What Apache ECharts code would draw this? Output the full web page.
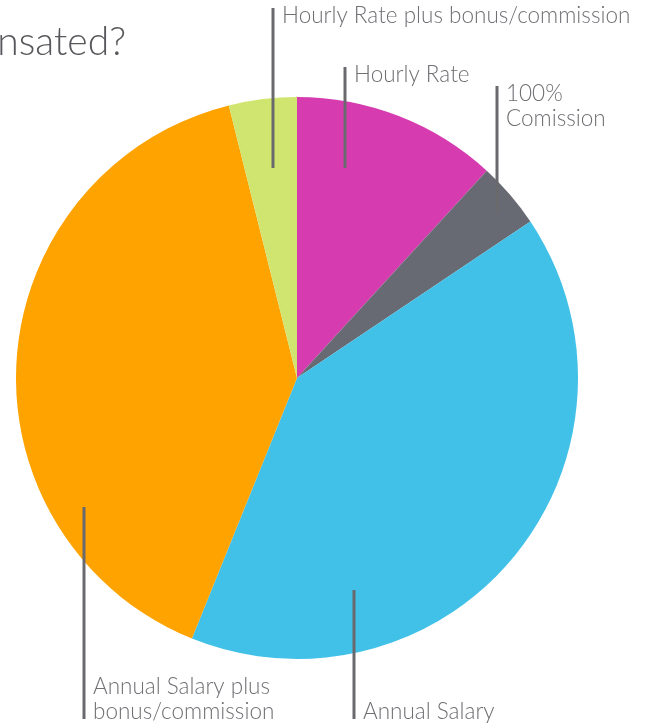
<!DOCTYPE html>
<html>
<head>
<meta charset="utf-8">
<script src="https://cdn.jsdelivr.net/npm/echarts@6/dist/echarts.min.js"></script>
<style>
  html, body { margin: 0; padding: 0; background: #ffffff; }
  #chart { width: 646px; height: 725px; }
</style>
</head>
<body>
<div id="chart"></div>
<script>
// Survey: how respondents are paid (share of answers, %)
const categories = [
  'Hourly Rate',
  '100%\nComission',
  'Annual Salary',
  'Annual Salary plus\nbonus/commission',
  'Hourly Rate plus bonus/commission'
];
const shares = [11.8, 3.8, 40.5, 40.0, 3.9];
const sliceColors = ['#d63caf', '#676a72', '#41c0e8', '#fea300', '#d0e570'];
const titleText = 'How are you compensated?';

// Callout placement per slice: leader x, leader top, leader bottom, text side
const callouts = [
  { x: 345, top: 67,  bottom: 168, textAt: 'top' },
  { x: 497, top: 86,  bottom: 213, textAt: 'top' },
  { x: 354, top: 590, bottom: 719, textAt: 'bottom' },
  { x: 84,  top: 507, bottom: 719, textAt: 'bottom' },
  { x: 273, top: 8,   bottom: 168, textAt: 'top' }
];

const textColor = '#6f6f74';
const lineColor = '#6a6a6e';
const fontFamily = 'Lato, "Open Sans", sans-serif';

const pieCenter = [297, 378];
const pieRadius = [0, 281];

const pieData = categories.map(function (name, i) {
  return { name: name, value: shares[i], itemStyle: { color: sliceColors[i] } };
});

const chart = echarts.init(document.getElementById('chart'), null, { renderer: 'canvas' });

chart.setOption({
  backgroundColor: '#ffffff',
  animation: false,
  graphic: [{
    type: 'text',
    x: 126,
    y: 62,
    style: {
      text: titleText,
      fill: '#58585c',
      font: '300 39px ' + fontFamily,
      align: 'right',
      verticalAlign: 'bottom'
    }
  }],
  series: [
    {
      // coloured slices
      type: 'pie',
      z: 2,
      center: pieCenter,
      radius: pieRadius,
      startAngle: 90,
      clockwise: true,
      label: { show: false },
      labelLine: { show: false },
      itemStyle: { borderWidth: 0 },
      emphasis: { disabled: true },
      data: pieData
    },
    {
      // callouts drawn above the slices
      type: 'pie',
      z: 5,
      silent: true,
      center: pieCenter,
      radius: pieRadius,
      startAngle: 90,
      clockwise: true,
      avoidLabelOverlap: false,
      itemStyle: { color: 'rgba(0,0,0,0)', borderWidth: 0 },
      label: {
        show: true,
        position: 'outside',
        color: textColor,
        fontFamily: fontFamily,
        fontWeight: 300,
        fontSize: 22.5,
        lineHeight: 25,
        formatter: '{b}'
      },
      labelLine: {
        show: true,
        length: 10,
        length2: 10,
        smooth: false,
        lineStyle: { color: lineColor, width: 3 }
      },
      labelLayout: function (params) {
        const c = callouts[params.dataIndex];
        const atTop = c.textAt === 'top';
        return {
          x: c.x + 9,
          y: atTop ? c.top - 5 : c.bottom + 5,
          align: 'left',
          verticalAlign: atTop ? 'top' : 'bottom',
          labelLinePoints: [[c.x, c.top], [c.x, c.bottom]]
        };
      },
      emphasis: { disabled: true },
      data: categories.map(function (name, i) {
        return { name: name, value: shares[i] };
      })
    }
  ]
});
</script>
</body>
</html>
